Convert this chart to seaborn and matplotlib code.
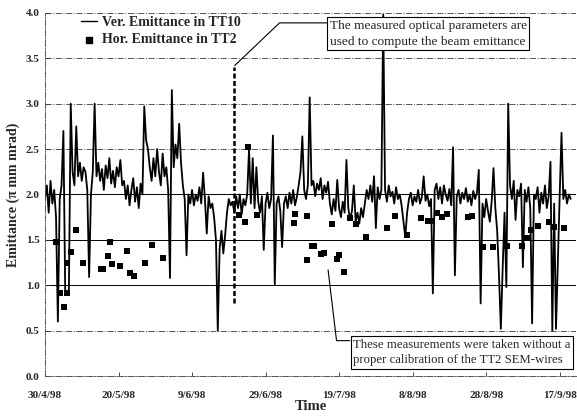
import numpy as np
import pandas as pd
import matplotlib
matplotlib.use("Agg")
import matplotlib.pyplot as plt
import seaborn as sns

# ---------------- data ----------------
START = pd.Timestamp("1998-04-30")
STEP_DAYS = 0.5   # one reading of the TT10 trace every half day

VER_TT10 = [
    1.95, 2.10, 1.80, 2.15, 1.90, 2.05, 1.75,
    0.60, 1.95, 2.10, 2.70, 0.92, 0.90, 0.95,
    3.00, 2.25, 2.10, 2.75, 2.20, 2.35, 2.15,
    2.30, 2.25, 2.05, 1.09, 2.00, 2.25, 3.00, 2.20,
    2.35, 2.15, 2.28, 2.05, 2.32, 2.18, 2.40, 2.12, 2.26, 2.08, 2.30, 2.20, 2.38, 2.10,
    2.15, 1.95, 2.10, 1.88, 2.05, 2.18, 1.92, 2.08, 1.85, 2.12, 2.00,
    2.97, 2.60, 2.50, 2.30,
    2.15, 2.40, 2.20, 2.50, 2.25, 2.10, 2.45, 2.20, 2.30,
    2.05, 1.08, 3.15, 2.30, 2.55, 2.40, 2.78, 2.35, 2.10, 1.95, 1.33, 2.00,
    1.90, 2.05, 1.88, 2.00, 1.93, 2.08, 1.90, 2.24, 1.95, 1.57, 1.98, 1.85,
    1.90, 1.75, 1.50, 0.50, 1.40, 1.60, 1.35, 1.55, 1.80, 1.95, 1.88,
    1.92, 1.80, 1.98, 1.85, 2.00, 1.78, 1.95, 1.88, 2.00, 2.50, 1.90, 2.40, 1.85, 2.30,
    1.92, 1.80, 1.98, 1.39, 1.90, 2.02, 1.85, 1.95, 2.65, 1.01, 1.90, 1.98, 1.82, 1.42, 1.90,
    1.98, 1.85, 2.02, 1.90, 2.05, 1.88, 1.97, 2.10, 2.25,
    2.64, 2.05, 1.95, 2.10, 3.07, 2.10,
    2.15, 1.98, 2.12, 2.05, 2.18, 1.95, 2.10, 2.02, 2.14,
    1.90, 1.78, 1.95, 1.82, 2.16, 1.85, 1.75, 1.92, 1.80, 2.38,
    1.85, 1.72, 1.82, 2.10, 1.70, 1.80, 1.68, 1.85, 1.75,
    1.90, 2.05, 1.95, 2.10, 1.92, 2.20, 1.63, 2.08, 1.95, 2.05,
    3.98,
    2.05, 1.92, 2.10, 1.98, 2.03, 1.90, 2.08, 1.95, 2.00, 1.88,
    1.70, 1.53, 1.80,
    1.95, 2.02, 1.88, 1.98, 1.92, 2.05, 1.90, 1.97, 2.20, 1.93, 2.00, 1.87, 1.95,
    0.91,
    2.05, 2.12, 1.95, 2.08, 1.90, 2.10, 2.00, 1.93, 2.06, 1.88,
    2.52, 1.11,
    1.98, 2.05, 1.90, 2.02, 1.95, 2.07, 1.92, 2.00, 1.88, 2.04, 1.95, 2.02,
    2.27, 0.80,
    1.90, 1.75, 1.95, 1.82, 1.70, 1.92,
    2.29, 1.85, 1.60, 1.10, 0.52, 1.20, 1.80, 0.98, 3.00,
    2.10, 1.95, 2.15, 1.72, 2.05, 1.98, 2.12,
    1.20,
    2.05, 1.92, 2.08, 1.85, 0.58, 2.00,
    1.95, 2.08, 1.80, 2.02, 1.90, 2.10, 1.85, 1.98,
    2.36, 0.50, 1.90, 0.52, 1.26, 1.98, 2.68, 1.95, 2.05, 1.90, 2.00, 1.95,
]

# days after 30/4/98 and horizontal emittance measured in TT2
HOR_DAYS = [3.1, 4.2, 5.3, 5.9, 6.1, 7.2, 8.3, 10.2, 15.1, 15.9, 17.0, 17.8, 18.1,
            20.3, 22.2, 23.0, 24.1, 27.1, 29.0, 32.0, 52.9, 54.3, 55.1, 57.8,
            67.6, 67.9, 71.2, 71.4, 72.5, 73.1, 75.0, 76.0, 78.2, 79.3, 80.1,
            81.2, 83.1, 84.7, 87.2, 92.9, 95.1, 98.4, 102.2, 104.1, 104.9,
            106.5, 107.9, 109.3, 115.0, 116.1, 119.1, 121.8, 125.8, 129.7,
            131.0, 132.1, 134.0, 137.0, 138.4, 141.1]
HOR_TT2 = [1.48, 0.91, 0.76, 0.91, 1.24, 1.37, 1.61, 1.25, 1.18, 1.18, 1.32, 1.48, 1.23,
           1.21, 1.38, 1.13, 1.10, 1.24, 1.44, 1.30, 1.77, 1.70, 2.52, 1.77,
           1.69, 1.79, 1.28, 1.76, 1.43, 1.43, 1.34, 1.36, 1.68, 1.29, 1.33,
           1.15, 1.74, 1.68, 1.53, 1.63, 1.76, 1.55, 1.74, 1.71, 1.71,
           1.80, 1.75, 1.78, 1.75, 1.76, 1.42, 1.42, 1.43, 1.43,
           1.52, 1.61, 1.65, 1.70, 1.64, 1.63]

TICK_LABELS = ["30/4/98", "20/5/98", "9/6/98", "29/6/98",
               "19/7/98", "8/8/98", "28/8/98", "17/9/98"]
Y_TICKS = [0.0, 0.5, 1.0, 1.5, 2.0, 2.5, 3.0, 3.5, 4.0]

OPTICS_DAY = 51.3   # measured optics used from here on

def to_date(days):
    return START + pd.to_timedelta(np.asarray(days, dtype=float), unit="D")

df_ver = pd.DataFrame({"date": to_date(np.arange(len(VER_TT10)) * STEP_DAYS),
                       "emit": VER_TT10})
df_hor = pd.DataFrame({"date": to_date(HOR_DAYS), "emit": HOR_TT2})

# ---------------- figure ----------------
sns.set_theme(style="white")
plt.rcParams["font.family"] = ["Liberation Serif", "DejaVu Serif"]

fig, ax = plt.subplots(figsize=(5.77, 4.16), dpi=100)
fig.subplots_adjust(left=0.078, right=0.998, top=0.969, bottom=0.096)

# grid lines
for yv in Y_TICKS[1:]:
    if yv in (1.0, 1.5, 2.0):
        ax.axhline(yv, color="black", lw=0.7, zorder=0)
    else:
        ax.axhline(yv, color="#555555", lw=0.7, ls="-.", zorder=0)

sns.lineplot(data=df_ver, x="date", y="emit", ax=ax, color="black", lw=1.3,
             estimator=None, label="Ver. Emittance in TT10", zorder=2)
sns.scatterplot(data=df_hor, x="date", y="emit", ax=ax, marker="s", s=13,
                color="black", edgecolor="black", linewidth=0,
                label="Hor. Emittance in TT2", zorder=3)

ax.set_xlim(to_date([0])[0], to_date([144.4])[0])
ax.set_ylim(0, 4.0)

ticks = to_date(np.arange(len(TICK_LABELS)) * 20)
ax.set_xticks(ticks)
ax.set_xticklabels(TICK_LABELS)
ax.set_yticks(Y_TICKS)
ax.set_yticklabels([f"{v:.1f}" for v in Y_TICKS])
ax.tick_params(axis="both", direction="in", length=3, width=0.6, color="#333333",
               labelsize=8)
ax.tick_params(axis="x", pad=11)
ax.tick_params(axis="y", pad=4, left=True)
ax.tick_params(axis="x", bottom=True)
for lab in ax.get_xticklabels() + ax.get_yticklabels():
    lab.set_fontweight("bold")

ax.set_xlabel("Time", fontsize=10.5, fontweight="bold", labelpad=0)
ax.set_ylabel("Emittance (\u03c0 mm mrad)", fontsize=10, fontweight="bold", labelpad=4)

for side in ("top", "right"):
    ax.spines[side].set_visible(False)
for side in ("left", "bottom"):
    ax.spines[side].set_linestyle("-.")
    ax.spines[side].set_color("#555555")
    ax.spines[side].set_linewidth(0.7)

leg = ax.legend(loc="upper left", bbox_to_anchor=(0.045, 1.025), frameon=False,
                handlelength=1.1, handletextpad=0.4, labelspacing=0.3,
                prop={"family": "Liberation Serif", "weight": "bold", "size": 10})
for h in leg.legend_handles:
    if hasattr(h, "set_linewidth"):
        h.set_linewidth(1.0)

# ---------- annotations ----------
d = lambda v: to_date([v])[0]
ax.plot([d(OPTICS_DAY), d(OPTICS_DAY)], [0.80, 3.40], color="black", lw=1.8,
        ls=(0, (2.0, 1.0)), zorder=4)
ax.plot([d(51.6), d(63.8), d(76.6)], [3.42, 3.89, 3.89], color="black", lw=0.8, zorder=4)
ax.text(d(77.4), 3.77, "The measured optical parameters are\nused to compute the beam emittance",
        fontsize=9.6, ha="left", va="center", linespacing=1.4, zorder=5,
        bbox=dict(boxstyle="square,pad=0.2", fc="white", ec="black", lw=0.8))

ax.plot([d(77.0), d(79.3), d(82.9)], [1.17, 0.39, 0.39], color="black", lw=0.8, zorder=4)
ax.text(d(83.9), 0.26, "These measurements were taken without a\nproper calibration of the TT2 SEM-wires",
        fontsize=9.2, ha="left", va="center", linespacing=1.35, zorder=5, clip_on=False,
        bbox=dict(boxstyle="square,pad=0.2", fc="white", ec="black", lw=0.8))

fig.savefig("out.png", dpi=100)
